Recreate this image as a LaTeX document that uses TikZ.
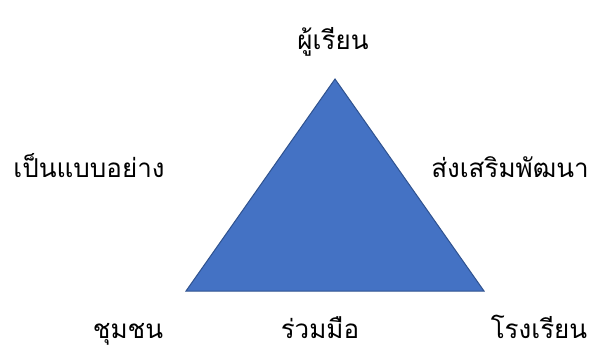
\documentclass[tikz,border=0pt]{standalone}
\usepackage{fontspec}
\usepackage{xcolor}
\newfontfamily\thaifont[Script=Thai]{Loma}
\definecolor{triblue}{HTML}{4472C4}
\definecolor{triedge}{HTML}{2F528F}

\begin{document}
\begin{tikzpicture}[x=1pt,y=-1pt,font=\thaifont\fontsize{26}{30}\selectfont,every node/.style={anchor=base,inner sep=0pt}]
\useasboundingbox(0,0) rectangle (593,349);
\coordinate(apex) at (335,79);\coordinate(bl) at (186,291);\coordinate(br) at (484,291);
\filldraw[fill=triblue,draw=triedge,line width=1pt](apex)--(bl)--(br)--cycle;
\node(learner) at (333,49){ผู้เรียน};
\node(model) at (89,177){เป็นแบบอย่าง};
\node(promote) at (510,177){ส่งเสริมพัฒนา};
\node(community) at (128,338){ชุมชน};
\node(together) at (320,338){ร่วมมือ};
\node(school) at (539,338){โรงเรียน};
\end{tikzpicture}
\end{document}
